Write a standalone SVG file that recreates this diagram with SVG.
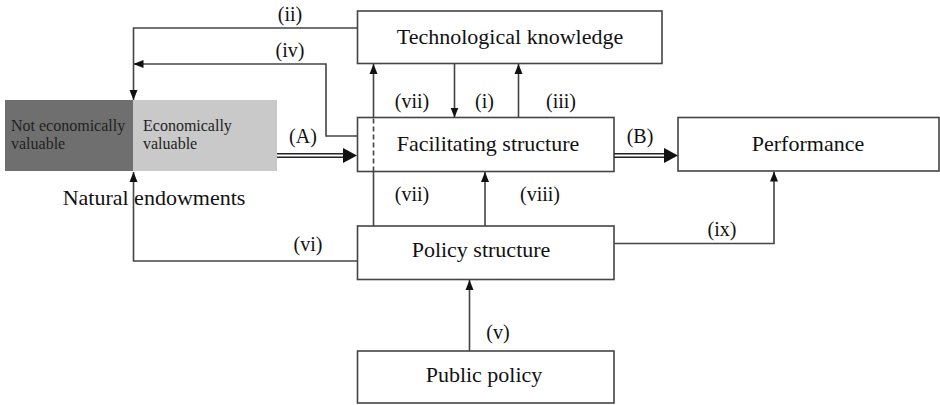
<svg xmlns="http://www.w3.org/2000/svg" width="940" height="405" viewBox="0 0 940 405">
<defs>
<style>
.box{fill:#fff;stroke:#444;stroke-width:1.6}
text{font-family:"Liberation Serif",serif}
.node{font-size:22px;fill:#111;text-anchor:middle}
.lbl{font-size:20px;fill:#111;text-anchor:middle}
.small{font-size:16px;fill:#222}
.con{fill:none;stroke:#444;stroke-width:1.6}
.dbl{fill:none;stroke:#222;stroke-width:1.4}
</style>
<marker id="arr" markerUnits="userSpaceOnUse" markerWidth="10" markerHeight="10" refX="10" refY="5" orient="auto">
<path d="M0,1 L10,5 L0,9 z" fill="#111"/>
</marker>
</defs>
<rect width="940" height="405" fill="#fff"/>

<g id="natural-endowments" font-family="Liberation Serif, serif">
<rect x="5" y="100" width="128" height="71" fill="#6f6f6f"/>
<rect x="133" y="100" width="144" height="71" fill="#c9c9c9"/>
<text class="small" x="11" y="131">Not economically</text>
<text class="small" x="11" y="149">valuable</text>
<text class="small" x="143" y="131">Economically</text>
<text class="small" x="143" y="149">valuable</text>
<text class="node" x="154" y="205">Natural endowments</text>
</g>

<g id="technological-knowledge" font-family="Liberation Serif, serif">
<rect class="box" x="357.5" y="11" width="304.5" height="52.5"/>
<text class="node" x="510" y="44">Technological knowledge</text>
</g>

<g id="facilitating-structure" font-family="Liberation Serif, serif">
<rect class="box" x="357.5" y="117.5" width="256.5" height="54"/>
<text class="node" x="488" y="151">Facilitating structure</text>
</g>

<g id="performance" font-family="Liberation Serif, serif">
<rect class="box" x="678" y="117.5" width="261" height="53.5"/>
<text class="node" x="808" y="151">Performance</text>
</g>

<g id="policy-structure" font-family="Liberation Serif, serif">
<rect class="box" x="357.5" y="226" width="256.5" height="53.5"/>
<text class="node" x="481" y="257">Policy structure</text>
</g>

<g id="public-policy" font-family="Liberation Serif, serif">
<rect class="box" x="357.5" y="351" width="256.5" height="52"/>
<text class="node" x="484" y="382">Public policy</text>
</g>

<g id="connectors" font-family="Liberation Serif, serif">
<path class="con" d="M357.5,28 H133.5 V100" marker-end="url(#arr)"/>
<path class="con" d="M357.5,136 H326 V64 H133.5" marker-end="url(#arr)"/>
<path class="con" d="M357.5,261 H133.5 V172" marker-end="url(#arr)"/>
<path class="con" d="M373.5,226 V171.5"/>
<path class="con" d="M373.5,171.5 V117.5" stroke-dasharray="5,3"/>
<path class="con" d="M373.5,117.5 V64" marker-end="url(#arr)"/>
<path class="con" d="M454.5,63.5 V117.5" marker-end="url(#arr)"/>
<path class="con" d="M518.5,117.5 V64" marker-end="url(#arr)"/>
<path class="con" d="M485,226 V172" marker-end="url(#arr)"/>
<path class="con" d="M469.5,351 V280" marker-end="url(#arr)"/>
<path class="con" d="M614,243.5 H774 V171.5" marker-end="url(#arr)"/>
<path class="dbl" d="M277,153.8 H345 M277,157.2 H345"/>
<polygon points="343,148 357,155.5 343,163" fill="#111"/>
<path class="dbl" d="M614,153.8 H666 M614,157.2 H666"/>
<polygon points="664,148 678,155.5 664,163" fill="#111"/>

<text class="lbl" x="290" y="21">(ii)</text>
<text class="lbl" x="290" y="57">(iv)</text>
<text class="lbl" x="412" y="108">(vii)</text>
<text class="lbl" x="484.5" y="108">(i)</text>
<text class="lbl" x="561" y="108">(iii)</text>
<text class="lbl" x="303" y="143">(A)</text>
<text class="lbl" x="640" y="143">(B)</text>
<text class="lbl" x="412" y="201">(vii)</text>
<text class="lbl" x="540" y="201">(viii)</text>
<text class="lbl" x="308" y="251">(vi)</text>
<text class="lbl" x="722" y="236">(ix)</text>
<text class="lbl" x="498" y="339">(v)</text>
</g>
</svg>
